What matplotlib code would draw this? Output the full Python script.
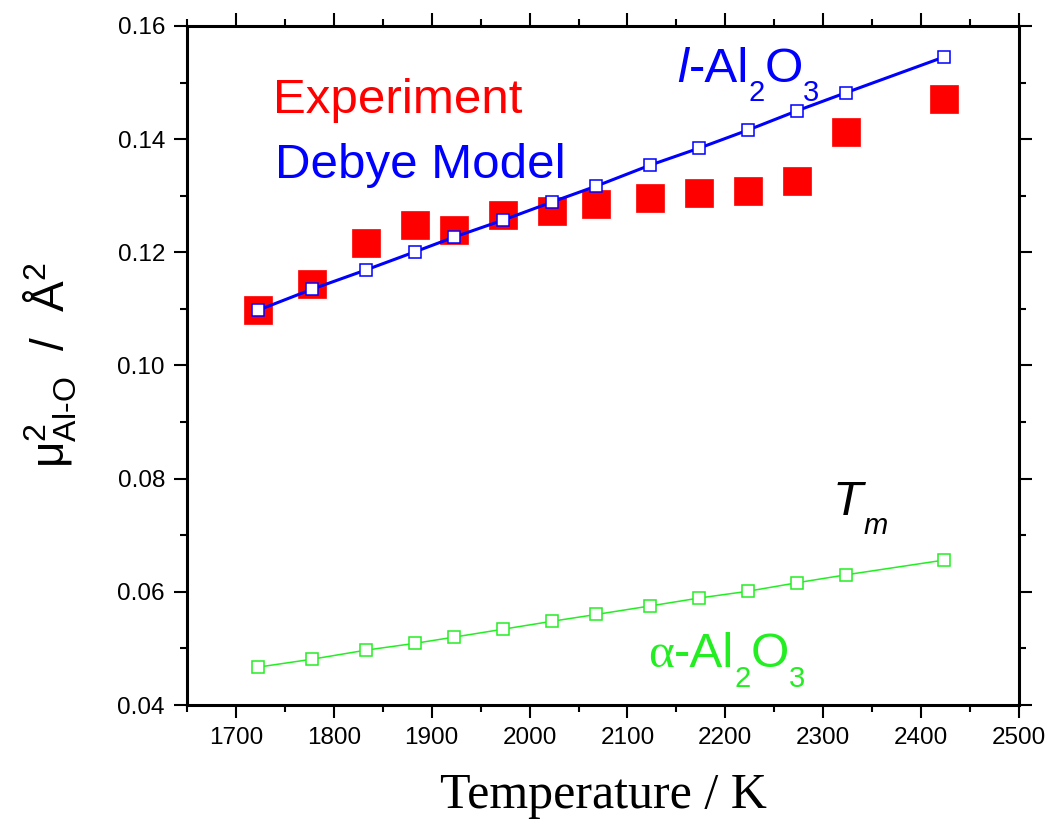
import matplotlib
matplotlib.use("Agg")
import matplotlib.pyplot as plt
from matplotlib.ticker import MultipleLocator, FormatStrFormatter
from matplotlib.transforms import offset_copy

# Temperatures (K)
temperature = [1723, 1778, 1833, 1883, 1923, 1973, 2023, 2068, 2123, 2173, 2223, 2273, 2323, 2423]
# Experimental mean-square relative displacement of Al-O pairs (Å^2)
experiment = [0.1098, 0.1144, 0.1216, 0.1248, 0.1239, 0.1266, 0.1273, 0.1285, 0.1296,
              0.1305, 0.1308, 0.1326, 0.1413, 0.1471]
# Debye model, liquid Al2O3
debye_liquid = [0.1098, 0.1135, 0.1169, 0.1201, 0.1227, 0.1257, 0.1289, 0.1317, 0.1354,
                0.1384, 0.1416, 0.1450, 0.1482, 0.1545]
# Debye model, corundum (alpha-Al2O3)
debye_alpha = [0.0467, 0.0481, 0.0497, 0.0509, 0.0520, 0.0534, 0.0548, 0.0560, 0.0575,
               0.0589, 0.0601, 0.0616, 0.0630, 0.0656]

RED = "#ff0000"
BLUE = "#0000ff"
GREEN = "#22ee22"
SANS = ["Liberation Sans", "DejaVu Sans"]
SERIF = ["Liberation Serif", "DejaVu Serif"]

plt.rcParams["font.family"] = SANS
plt.rcParams["mathtext.fontset"] = "custom"
plt.rcParams["mathtext.rm"] = "Liberation Sans"
plt.rcParams["mathtext.it"] = "Liberation Sans:italic"
plt.rcParams["mathtext.bf"] = "Liberation Sans:bold"

fig = plt.figure(figsize=(10.54, 8.22), dpi=100)
ax = fig.add_axes([187 / 1054, 1 - 705 / 822, 832 / 1054, 679 / 822])

ax.plot(temperature, experiment, linestyle="none", marker="s", markersize=20,
        color=RED, markeredgecolor=RED, markeredgewidth=0.5, zorder=2)
ax.plot(temperature, debye_liquid, color=BLUE, linewidth=2.2, marker="s", markersize=8.6,
        markerfacecolor="white", markeredgecolor=BLUE, markeredgewidth=1.1, zorder=3)
ax.plot(temperature, debye_alpha, color=GREEN, linewidth=1.1, marker="s", markersize=8.6,
        markerfacecolor="white", markeredgecolor=GREEN, markeredgewidth=1.1, zorder=3)

ax.set_xlim(1650, 2500)
ax.set_ylim(0.04, 0.16)
ax.xaxis.set_major_locator(MultipleLocator(100))
ax.xaxis.set_minor_locator(MultipleLocator(50))
ax.yaxis.set_major_locator(MultipleLocator(0.02))
ax.yaxis.set_minor_locator(MultipleLocator(0.01))
ax.yaxis.set_major_formatter(FormatStrFormatter("%.2f"))

for side in ax.spines.values():
    side.set_linewidth(2.2)
ax.tick_params(which="both", direction="out", top=True, right=True, width=1.5)
ax.tick_params(which="major", length=9.4, labelsize=17.5, pad=6.5)
ax.tick_params(which="minor", length=4.7)

ax.set_xlabel("Temperature / K", family=SERIF, fontsize=36, labelpad=17)
ax.set_ylabel(r"μ$^{2}_{\mathrm{Al\text{-}O}}$  /  Å$^{2}$", fontsize=33, labelpad=28)

ax.text(1738, 0.1446, "Experiment", color=RED, fontsize=35.5, va="baseline")
ax.text(1740, 0.1331, "Debye Model", color=BLUE, fontsize=35.5, va="baseline")


def rich_label(x, y, pieces, color):
    """Lay out text pieces left to right; each piece is (text, size, drop_pt, style, family)."""
    renderer = fig.canvas.get_renderer()
    dx = 0.0
    for text, size, drop, style, family in pieces:
        tr = offset_copy(ax.transData, fig=fig, x=dx, y=-drop * fig.dpi / 72.0, units="dots")
        t = ax.text(x, y, text, transform=tr, color=color, fontsize=size,
                    style=style, family=family, va="baseline", ha="left")
        dx += t.get_window_extent(renderer).width


big, small, drop = 35.5, 21, 14
rich_label(2151, 0.1501, [("l", big, 0, "italic", SANS), ("-Al", big, 0, "normal", SANS),
                          ("2", small, drop, "normal", SANS), ("O", big, 0, "normal", SANS),
                          ("3", small, drop, "normal", SANS)], BLUE)
rich_label(2310, 0.0736, [("T", big, 0, "italic", SANS), ("m", small, drop, "italic", SANS)],
           "black")
rich_label(2121, 0.0467, [("α", big, 0, "normal", SERIF), ("-Al", big, 0, "normal", SANS),
                          ("2", small, drop, "normal", SANS), ("O", big, 0, "normal", SANS),
                          ("3", small, drop, "normal", SANS)], GREEN)

fig.savefig("out.png", dpi=100)
